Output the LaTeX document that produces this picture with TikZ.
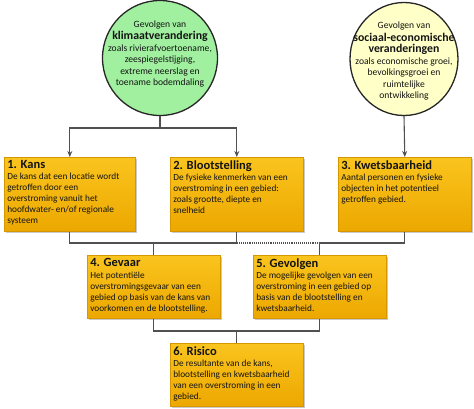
\documentclass[tikz,border=0pt]{standalone}
\usepackage{fontspec}
\setmainfont{Carlito}
\usetikzlibrary{shadows,arrows.meta,shapes.geometric}
\definecolor{gfill}{RGB}{160,240,160}
\definecolor{yfill}{RGB}{255,255,200}
\definecolor{btop}{RGB}{250,196,30}
\definecolor{bbot}{RGB}{236,168,0}
\definecolor{bdraw}{RGB}{214,150,0}
\definecolor{lin}{RGB}{80,80,80}
\definecolor{txt}{RGB}{20,20,20}
\newcommand{\boxc}[4]{\parbox[c][#2pt][t]{#1pt}{\raggedright\fontsize{12.5}{14}\selectfont\textbf{#3}\par\vspace{0.5pt}\fontsize{9.3}{11}\selectfont #4}}
\tikzset{
  stepbox/.style={draw=bdraw, line width=0.6pt, top color=btop, bottom color=bbot, inner sep=3pt, anchor=north west, text=txt,
    drop shadow={shadow xshift=2pt, shadow yshift=-2pt, opacity=0.35, fill=black!60}},
  circ/.style={circle, draw=black!85, line width=1.3pt, inner sep=0pt},
  ctext/.style={align=center, text=txt, font=\fontsize{9.6}{11.5}\selectfont},
  conn/.style={draw=lin, line width=1.1pt},
  arr/.style={conn, -{Stealth[length=6pt,width=5pt]}}
}
\begin{document}
\begin{tikzpicture}[x=1pt,y=-1pt]
\useasboundingbox (0,0) rectangle (474,408);
% circles
\node[circ, fill=gfill, minimum size=115pt] (g) at (160,58) {};
\node[ctext] (gt) at (160,54) {Gevolgen van\\[1pt]{\fontsize{11.8}{13}\selectfont\textbf{klimaatverandering}}\\zoals rivierafvoertoename,\\zeespiegelstijging,\\extreme neerslag en\\toename bodemdaling};
\node[circ, fill=yfill, ellipse, minimum width=108pt, minimum height=113pt] (yc) at (404,59) {};
\node[ctext] (yt) at (404,61) {Gevolgen van\\[1pt]{\fontsize{11.8}{13.5}\selectfont\textbf{sociaal-economische}}\\{\fontsize{11.8}{13.5}\selectfont\textbf{veranderingen}}\\zoals economische groei,\\bevolkingsgroei en\\ruimtelijke\\ontwikkeling};
% boxes
\node[stepbox] (b1) at (4,157) {\boxc{125}{68}{1. Kans}{De kans dat een locatie wordt\\getroffen door een\\overstroming vanuit het\\hoofdwater- en/of regionale\\systeem}};
\node[stepbox] (b2) at (170,157) {\boxc{127}{68}{2. Blootstelling}{De fysieke kenmerken van een\\overstroming in een gebied:\\zoals grootte, diepte en\\snelheid}};
\node[stepbox] (b3) at (338,157) {\boxc{127}{68}{3. Kwetsbaarheid}{Aantal personen en fysieke\\objecten in het potentieel\\getroffen gebied.}};
\node[stepbox] (b4) at (87,255) {\boxc{127}{57}{4. Gevaar}{Het potentiële\\overstromingsgevaar van een\\gebied op basis van de kans van\\voorkomen en de blootstelling.}};
\node[stepbox] (b5) at (253,255) {\boxc{127}{57}{5. Gevolgen}{De mogelijke gevolgen van een\\overstroming in een gebied op\\basis van de blootstelling en\\kwetsbaarheid.}};
\node[stepbox] (b6) at (170,343) {\boxc{127}{57}{6. Risico}{De resultante van de kans,\\blootstelling en kwetsbaarheid\\van een overstroming in een\\gebied.}};
% connectors
\coordinate (j1) at (g.south |- 0,128);
\draw[conn] (g.south) -- (j1);
\draw[arr] (j1) -| (b1.north);
\draw[arr] (j1) -| (b2.north);
\draw[arr] (yc.south) -- (b3.north);
\coordinate (j2) at (b4.north |- 0,243);
\coordinate (j3) at (b5.north |- 0,243);
\draw[conn] (b1.south) |- (j2) -| (b2.south);
\draw[conn] (j2) -- (b4.north);
\draw[conn, densely dotted] (b2.south |- j2) -- (j3);
\draw[conn] (b3.south) |- (j3) -- (b5.north);
\coordinate (j4) at (b6.north |- 0,331);
\draw[conn] (b4.south) |- (j4) -| (b5.south);
\draw[conn] (j4) -- (b6.north);
\end{tikzpicture}
\end{document}
